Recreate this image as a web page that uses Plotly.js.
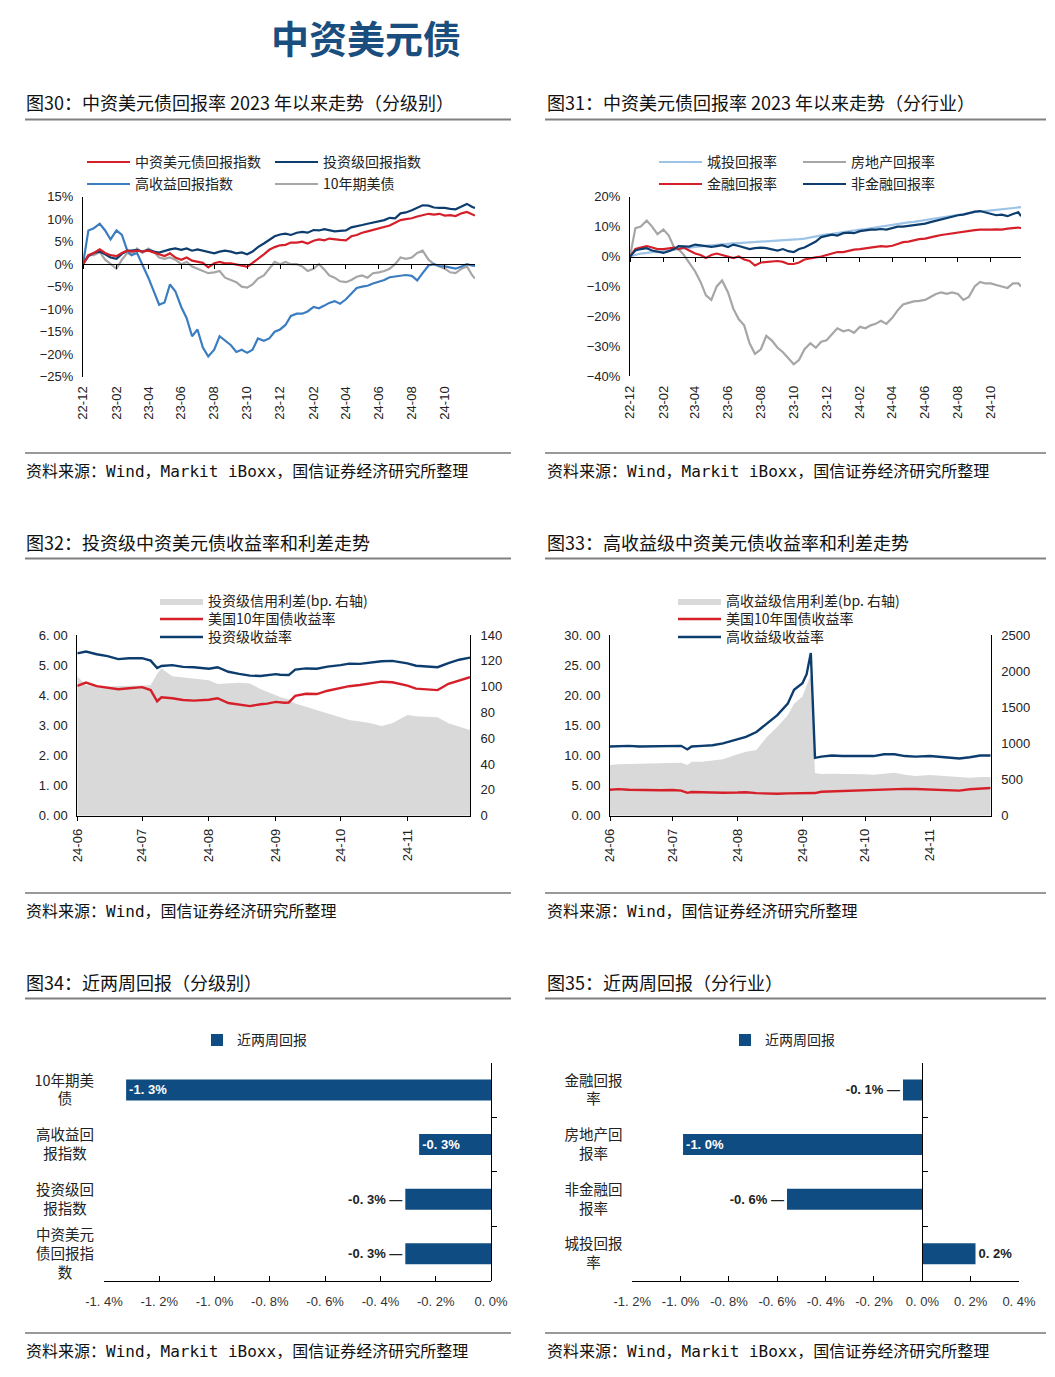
<!DOCTYPE html>
<html>
<head>
<meta charset="utf-8">
<script src="https://cdn.plot.ly/plotly-3.0.1.min.js"></script>
<style>html,body{margin:0;padding:0;background:#fff}#chart{width:1055px;height:1377px}</style>
</head>
<body>
<div id="chart"></div>
<script>
// ---------------- DATA ----------------
const topDates = [
'2022-12-01','2022-12-11','2022-12-21','2023-01-01','2023-01-11','2023-01-21',
'2023-02-01','2023-02-11','2023-02-21','2023-03-01','2023-03-11','2023-03-21',
'2023-04-01','2023-04-11','2023-04-21','2023-05-01','2023-05-11','2023-05-21',
'2023-06-01','2023-06-11','2023-06-21','2023-07-01','2023-07-11','2023-07-21',
'2023-08-01','2023-08-11','2023-08-21','2023-09-01','2023-09-11','2023-09-21',
'2023-10-01','2023-10-11','2023-10-21','2023-11-01','2023-11-11','2023-11-21',
'2023-12-01','2023-12-11','2023-12-21','2024-01-01','2024-01-11','2024-01-21',
'2024-02-01','2024-02-11','2024-02-21','2024-03-01','2024-03-11','2024-03-21',
'2024-04-01','2024-04-11','2024-04-21','2024-05-01','2024-05-11','2024-05-21',
'2024-06-01','2024-06-11','2024-06-21','2024-07-01','2024-07-11','2024-07-21',
'2024-08-01','2024-08-11','2024-08-21','2024-09-01','2024-09-11','2024-09-21',
'2024-10-01','2024-10-11','2024-10-21','2024-11-01','2024-11-11','2024-11-21',
'2024-11-26'];

// Fig 30 (%)
const chinaUsdBondIndex = [0,2.0,2.5, 3.3,2.5,2.0, 1.8,2.5,3.0, 2.8,3.0,2.8, 3.0,2.6,2.2, 1.8,2.4,1.5,
  1.0,1.5,0.8, 0.5,0.3,-0.7, 0.2,0.5,0.2, 0.2,0.0,-0.3, -0.6,0.2,1.2, 2.2,3.2,3.8,
  4.2,4.3,4.8, 4.8,5.0,4.6, 5.2,5.5,5.3, 5.7,5.5,5.4, 5.3,6.2,6.5, 7.0,7.3,7.6,
  8.0,8.3,8.6, 9.2,9.8,10.0, 10.2,10.6,10.9, 11.2,11.0,11.2, 10.8,10.9,10.7, 11.3,11.6,11.0, 10.8];
const investmentGradeIndex = [0,1.8,2.5, 2.8,2.2,1.5, 1.2,2.3,3.0, 3.0,3.2,2.8, 3.2,2.8,2.6, 3.0,3.3,3.5,
  3.2,3.5,3.0, 3.3,3.0,2.8, 2.4,2.8,3.0, 2.8,2.4,2.6, 2.2,2.8,3.8, 4.6,5.5,6.2,
  6.6,6.8,6.5, 7.0,7.2,7.0, 7.6,7.5,7.8, 7.6,7.3,7.4, 7.5,8.2,8.4, 8.7,9.0,9.3,
  9.5,9.8,10.3, 10.2,11.3,11.5, 12.0,12.5,13.1, 13.0,12.6,12.5, 12.5,12.3,12.2, 12.8,13.4,12.7, 12.5];
const highYieldIndex = [0,7.5,8.0, 9.0,7.5,5.5, 7.5,6.5,3.0, 2.0,2.5,0.0, -3.0,-6.0,-9.0, -8.5,-4.5,-6.0,
  -9.5,-12.0,-16.0, -14.5,-18.5,-20.5, -19.0,-16.0,-17.0, -18.0,-19.5,-19.0, -19.7,-19.0,-16.5, -17.0,-16.5,-15.0,
  -14.5,-13.5,-11.5, -11.0,-11.0,-10.5, -9.5,-9.8,-9.2, -8.6,-8.2,-8.8, -7.8,-6.5,-5.3, -5.0,-4.8,-4.3,
  -3.9,-3.5,-2.9, -2.7,-2.5,-2.4, -2.6,-3.6,-2.0, -0.3,0.0,-0.4, -0.5,-0.8,-1.0, -0.5,0.0,-0.3, -0.4];
const tenYearTreasury = [0,2.0,2.0, 2.7,1.0,0.0, -1.0,1.0,2.5, 2.0,3.5,2.5, 3.5,2.8,1.5, 1.2,1.5,1.0,
  0.0,0.5,-0.5, -1.0,-1.5,-2.0, -1.8,-1.5,-3.0, -3.5,-4.0,-5.0, -5.2,-4.5,-3.2, -2.5,-1.0,0.5,
  0.0,0.5,0.0, 0.0,-0.5,-1.5, -1.0,0.0,-1.2, -2.5,-3.0,-3.8, -4.0,-3.5,-2.8, -2.5,-3.0,-2.0,
  -1.8,-1.5,-1.0, 0.0,1.5,1.2, 1.5,2.5,3.0, 1.0,0.0,-0.5, -1.0,-1.8,-2.0, -1.0,-0.5,-2.5, -3.2];

// Fig 31 (%)
const chengtouReturn = [0,0.5,1.0, 1.2,1.5,1.5, 1.8,2.0,2.2, 2.5,2.8,3.0, 3.2,3.4,3.6, 3.8,4.0,4.2,
  4.3,4.4,4.5, 4.6,4.7,4.8, 4.9,5.0,5.1, 5.3,5.4,5.5, 5.6,5.8,6.0, 6.4,6.8,7.1,
  7.4,7.6,7.9, 8.2,8.4,8.7, 9.0,9.2,9.5, 9.8,10.0,10.3, 10.6,10.8,11.1, 11.4,11.6,11.9,
  12.2,12.5,12.8, 13.1,13.4,13.7, 14.0,14.3,14.5, 14.8,15.0,15.2, 15.4,15.6,15.8, 16.0,16.2,16.4, 16.5];
const propertyReturn = [0,9.5,10.0, 12.0,10.0,7.5, 9.0,7.0,3.0, 2.5,0.5,-2.0, -5.0,-8.5,-13.0, -14.5,-10.0,-8.0,
  -12.0,-17.5,-21.0, -23.0,-29.0,-32.5, -31.0,-26.5,-28.0, -30.5,-32.0,-34.0, -36.0,-34.5,-31.0, -29.0,-30.5,-28.5,
  -28.0,-26.0,-24.0, -25.0,-24.5,-25.5, -23.5,-24.0,-23.0, -22.5,-21.5,-22.5, -20.5,-18.0,-16.0, -15.5,-15.0,-14.8,
  -14.5,-13.5,-12.5, -12.0,-12.5,-12.0, -12.5,-14.5,-13.5, -10.0,-8.5,-9.0, -9.0,-9.5,-10.0, -10.5,-9.0,-9.0, -10.0];
const financialReturn = [0,2.5,3.0, 3.5,3.0,2.5, 2.5,2.8,3.0, 2.5,3.0,2.0, 1.0,0.5,-0.5, 0.5,1.0,0.5,
  0.0,-0.5,0.0, -1.0,-1.5,-3.0, -2.0,-1.8,-1.5, -1.5,-1.8,-2.5, -2.5,-2.0,-1.0, -0.5,-0.3,0.0,
  0.5,1.0,1.5, 1.5,2.0,2.3, 2.5,2.7,3.0, 3.2,3.5,3.3, 3.6,4.2,4.8, 5.0,5.5,5.8,
  6.0,6.5,6.8, 7.2,7.5,7.7, 8.0,8.2,8.5, 8.8,9.0,8.9, 9.0,9.1,9.0, 9.3,9.6,9.7, 9.5];
const nonFinancialReturn = [0,2.0,2.5, 2.8,2.0,1.5, 1.2,1.8,2.5, 3.5,3.5,3.3, 4.0,3.8,3.5, 3.2,3.5,3.8,
  3.2,4.0,3.5, 3.0,2.5,2.8, 3.0,2.8,2.3, 2.0,2.5,1.8, 1.5,2.5,3.0, 4.0,5.0,6.5,
  7.0,7.3,7.0, 7.8,8.0,7.8, 8.5,8.8,9.0, 9.0,9.2,9.0, 9.5,10.0,10.0, 10.2,10.5,10.8,
  11.0,11.5,12.0, 12.5,12.8,13.5, 13.8,14.0,14.5, 15.0,15.2,14.8, 14.2,13.8,14.0, 13.5,14.2,14.8, 13.5];

// Fig 32 / 33
const midDates = [
'2024-06-01','2024-06-05','2024-06-10','2024-06-15','2024-06-20','2024-06-25',
'2024-07-01','2024-07-05','2024-07-08','2024-07-10','2024-07-15','2024-07-20','2024-07-25',
'2024-08-01','2024-08-05','2024-08-10','2024-08-15','2024-08-20','2024-08-25','2024-08-28',
'2024-09-01','2024-09-03','2024-09-05','2024-09-07','2024-09-10','2024-09-15','2024-09-20','2024-09-25',
'2024-10-01','2024-10-05','2024-10-10','2024-10-15','2024-10-20','2024-10-25',
'2024-11-01','2024-11-05','2024-11-10','2024-11-15','2024-11-20','2024-11-25','2024-11-30'];
const igSpread = [108,101,100.5,100,100.5,100.5, 100.5,101,110,114,108,107,106.5,
  105,102,102.6,103,102.5,98,96, 93,92,91,90,87,84.5,82,79.3,
  76.7,74.2,72.9,71.6,69.5,71.6, 78,77,76.7,76.2,71.6,69,66.4];
const us10y = [4.31,4.42,4.30,4.25,4.20,4.23, 4.27,4.17,3.80,3.93,3.90,3.84,3.82,
  3.85,3.90,3.74,3.68,3.64,3.70,3.72, 3.78,3.76,3.75,3.76,3.98,4.05,4.04,4.15,
  4.25,4.30,4.34,4.39,4.45,4.43, 4.32,4.22,4.20,4.17,4.38,4.50,4.60];
const igYield = [5.39,5.45,5.36,5.30,5.20,5.23, 5.23,5.15,4.90,4.97,5.00,4.94,4.93,
  4.88,4.93,4.78,4.71,4.65,4.64,4.66, 4.70,4.68,4.67,4.67,4.85,4.89,4.88,4.95,
  5.00,5.05,5.04,5.08,5.13,5.14, 5.06,4.98,4.96,4.93,5.07,5.18,5.25];
const hySpread = [700,712,715,718,718,720, 725,733,700,745,748,760,780,
  850,885,910,1090,1230,1390,1550, 1650,1800,1950,590,578,580,580,575,
  572,568,585,595,565,550, 563,555,540,530,525,535,535];
const hyYield = [11.5,11.6,11.6,11.5,11.5,11.5, 11.6,11.6,11.0,11.5,11.6,11.7,12.0,
  12.7,13.1,13.9,15.3,16.7,18.6,20.9, 22.0,23.5,27.0,9.6,9.8,10.0,9.9,9.9,
  9.9,9.9,10.2,10.2,9.9,9.8, 9.9,9.8,9.7,9.5,9.7,10.0,10.0];

// Fig 34 / 35 (%)
const gradeCats = ['10年期美债','高收益回报指数','投资级回报指数','中资美元债回报指数'];
const gradeTwoWeek = [-1.32,-0.26,-0.31,-0.31];
const gradeLabels = ['-1. 3%','-0. 3%','-0. 3% —','-0. 3% —'];
const gradeTickText = ['10年期美<br>债\u3000\u2002','高收益回<br>报指数\u2002','投资级回<br>报指数\u2002','中资美元<br>债回报指<br>数\u3000\u2002'];
const sectorCats = ['金融回报率','房地产回报率','非金融回报率','城投回报率'];
const sectorTwoWeek = [-0.08,-0.99,-0.56,0.22];
const sectorLabels = ['-0. 1% —','-1. 0%','-0. 6% —','0. 2%'];
const sectorTickText = ['金融回报<br>率\u3000\u2002','房地产回<br>报率\u3000','非金融回<br>报率\u3000','城投回报<br>率\u3000\u2002'];

const gradeTickVals = [-1.4,-1.2,-1.0,-0.8,-0.6,-0.4,-0.2,0];
const gradeTickLbl = ['-1. 4%','-1. 2%','-1. 0%','-0. 8%','-0. 6%','-0. 4%','-0. 2%','0. 0%'];
const sectorTickVals = [-1.2,-1.0,-0.8,-0.6,-0.4,-0.2,0,0.2,0.4];
const sectorTickLbl = ['-1. 2%','-1. 0%','-0. 8%','-0. 6%','-0. 4%','-0. 2%','0. 0%','0. 2%','0. 4%'];
const yieldTickVals = [0,1,2,3,4,5,6];
const yieldTickLbl = ['0. 00','1. 00','2. 00','3. 00','4. 00','5. 00','6. 00'];
const hyTickVals = [0,5,10,15,20,25,30];
const hyTickLbl = ['0. 00','5. 00','10. 00','15. 00','20. 00','25. 00','30. 00'];

// ---------------- STYLE ----------------
const W = 1055, H = 1377;
const px = v => v / W;
const py = v => 1 - v / H;
const CJK = 'Noto Sans CJK SC';
const LAT = 'Liberation Sans, Arial, Noto Sans CJK SC';
const MONO = 'DejaVu Sans Mono, Noto Sans CJK SC';
const RED = '#d5202a', NAVY = '#0c3d6e', BLUE = '#3b7dc0', GRAY = '#a6a6a6',
      LBLUE = '#9dc3e6', AREA = '#d9d9d9', BAR = '#0f4c81', TXT = '#222';

function line(x, y, name, color, xa, ya, lgd, w) {
  return {x: x, y: y, name: name, type: 'scatter', mode: 'lines',
    line: {color: color, width: w || 2.2}, xaxis: xa, yaxis: ya, legend: lgd, hoverinfo: 'skip'};
}
function area(x, y, name, xa, ya, lgd) {
  return {x: x, y: y, name: name, type: 'scatter', mode: 'lines', fill: 'tozeroy',
    fillcolor: AREA, line: {color: AREA, width: 0}, xaxis: xa, yaxis: ya, legend: lgd, hoverinfo: 'skip'};
}
function barTrace(cats, vals, labels, positions, xa, ya, lgd) {
  return {type: 'bar', orientation: 'h', y: cats, x: vals, name: '近两周回报',
    marker: {color: BAR}, text: labels, textposition: positions, insidetextanchor: 'end',
    textfont: {family: LAT, size: 13, weight: 700},
    insidetextfont: {family: LAT, size: 13, color: '#fff', weight: 700},
    outsidetextfont: {family: LAT, size: 13, color: TXT, weight: 700},
    constraintext: 'none', cliponaxis: false, xaxis: xa, yaxis: ya, legend: lgd, hoverinfo: 'skip'};
}

const data = [
  // Fig 30
  line(topDates, tenYearTreasury, '10年期美债', GRAY, 'x', 'y', 'legend4'),
  line(topDates, highYieldIndex, '高收益回报指数', BLUE, 'x', 'y', 'legend2'),
  line(topDates, investmentGradeIndex, '投资级回报指数', NAVY, 'x', 'y', 'legend3'),
  line(topDates, chinaUsdBondIndex, '中资美元债回报指数', RED, 'x', 'y', 'legend'),
  // Fig 31
  line(topDates, chengtouReturn, '城投回报率', LBLUE, 'x2', 'y2', 'legend5'),
  line(topDates, propertyReturn, '房地产回报率', GRAY, 'x2', 'y2', 'legend6'),
  line(topDates, financialReturn, '金融回报率', RED, 'x2', 'y2', 'legend7'),
  line(topDates, nonFinancialReturn, '非金融回报率', NAVY, 'x2', 'y2', 'legend8'),
  // Fig 32
  area(midDates, igSpread, '投资级信用利差(bp. 右轴)', 'x3', 'y3', 'legend9'),
  line(midDates, us10y, '美国10年国债收益率', RED, 'x3', 'y4', 'legend10', 2.4),
  line(midDates, igYield, '投资级收益率', NAVY, 'x3', 'y4', 'legend11', 2.4),
  // Fig 33
  area(midDates, hySpread, '高收益级信用利差(bp. 右轴)', 'x4', 'y5', 'legend12'),
  line(midDates, us10y, '美国10年国债收益率', RED, 'x4', 'y6', 'legend13', 2.4),
  line(midDates, hyYield, '高收益级收益率', NAVY, 'x4', 'y6', 'legend14', 2.4),
  // Fig 34 / 35
  barTrace(gradeCats, gradeTwoWeek, gradeLabels, ['inside','inside','outside','outside'], 'x5', 'y7', 'legend15'),
  barTrace(sectorCats, sectorTwoWeek, sectorLabels, ['outside','inside','outside','outside'], 'x6', 'y8', 'legend16')
];

// ---------------- LAYOUT ----------------
const tickF = {family: LAT, size: 13, color: TXT};
const baseAx = {showgrid: false, zeroline: false, fixedrange: true, linecolor: '#000', linewidth: 1, tickcolor: '#000', tickfont: tickF};

function lg(xLine, yCenter, iw) {
  return {x: px(xLine - 5), y: py(yCenter - 15.6), xanchor: 'left', yanchor: 'top', orientation: 'v',
    bgcolor: 'rgba(0,0,0,0)', borderwidth: 0, itemwidth: iw || 43,
    font: {family: CJK, size: 14, color: TXT}};
}

const layout = {
  width: W, height: H, autosize: false,
  margin: {l: 0, r: 0, t: 0, b: 0, pad: 0},
  paper_bgcolor: '#fff', plot_bgcolor: 'rgba(0,0,0,0)',
  showlegend: true, bargap: 0.615,
  // Fig 30
  xaxis: Object.assign({}, baseAx, {domain: [px(83), px(475)], type: 'date', range: ['2022-12-01', '2024-11-26'],
    anchor: 'free', position: py(264.2), showline: true, ticks: 'outside', ticklen: 4,
    dtick: 'M2', tick0: '2022-12-01', tickformat: '%y-%m', tickangle: -90, ticklabelstandoff: 112}),
  yaxis: Object.assign({}, baseAx, {domain: [py(376.7), py(196.7)], range: [-25, 15], dtick: 5, ticksuffix: '%',
    anchor: 'x', showline: true, ticks: '', ticklabelstandoff: 6}),
  // Fig 31
  xaxis2: Object.assign({}, baseAx, {domain: [px(630), px(1021)], type: 'date', range: ['2022-12-01', '2024-11-26'],
    anchor: 'free', position: py(256.5), showline: true, ticks: 'outside', ticklen: 4,
    dtick: 'M2', tick0: '2022-12-01', tickformat: '%y-%m', tickangle: -90, ticklabelstandoff: 119}),
  yaxis2: Object.assign({}, baseAx, {domain: [py(376.2), py(196.7)], range: [-40, 20], dtick: 10, ticksuffix: '%',
    anchor: 'x2', showline: true, ticks: '', ticklabelstandoff: 6}),
  // Fig 32
  xaxis3: Object.assign({}, baseAx, {domain: [px(77.3), px(470)], type: 'date', range: ['2024-06-01', '2024-11-30'],
    anchor: 'y3', showline: true, ticks: 'outside', ticklen: 4, dtick: 'M1', tick0: '2024-06-01',
    tickformat: '%y-%m', tickangle: -90, ticklabelstandoff: 3}),
  yaxis3: Object.assign({}, baseAx, {domain: [py(815.7), py(635)], range: [0, 140], dtick: 20, side: 'right',
    anchor: 'x3', showline: true, ticks: '', ticklabelstandoff: 7}),
  yaxis4: Object.assign({}, baseAx, {range: [0, 6], overlaying: 'y3', side: 'left', anchor: 'x3', showline: true,
    ticks: '', tickmode: 'array', tickvals: yieldTickVals, ticktext: yieldTickLbl, ticklabelstandoff: 6}),
  // Fig 33
  xaxis4: Object.assign({}, baseAx, {domain: [px(610), px(990.7)], type: 'date', range: ['2024-06-01', '2024-11-30'],
    anchor: 'y5', showline: true, ticks: 'outside', ticklen: 4, dtick: 'M1', tick0: '2024-06-01',
    tickformat: '%y-%m', tickangle: -90, ticklabelstandoff: 3}),
  yaxis5: Object.assign({}, baseAx, {domain: [py(815.7), py(635)], range: [0, 2500], dtick: 500, side: 'right',
    anchor: 'x4', showline: true, ticks: '', ticklabelstandoff: 7}),
  yaxis6: Object.assign({}, baseAx, {range: [0, 30], overlaying: 'y5', side: 'left', anchor: 'x4', showline: true,
    ticks: '', tickmode: 'array', tickvals: hyTickVals, ticktext: hyTickLbl, ticklabelstandoff: 6}),
  // Fig 34
  xaxis5: Object.assign({}, baseAx, {domain: [px(104), px(491)], range: [-1.4, 0], anchor: 'y7', showline: true,
    ticks: 'inside', ticklen: 5, tickmode: 'array', tickvals: gradeTickVals, ticktext: gradeTickLbl,
    tickfont: {family: LAT, size: 13, color: '#333'}, ticklabelstandoff: 8}),
  yaxis7: Object.assign({}, baseAx, {domain: [py(1281), py(1062.7)], type: 'category', range: [3.5, -0.5],
    anchor: 'free', position: px(491), side: 'left', showline: true, ticks: 'inside', ticklen: 5, tickson: 'boundaries',
    tickmode: 'array', tickvals: gradeCats, ticktext: gradeTickText,
    tickfont: {family: CJK, size: 14.5, color: TXT}, ticklabelstandoff: 394}),
  // Fig 35
  xaxis6: Object.assign({}, baseAx, {domain: [px(632.3), px(1019)], range: [-1.2, 0.4], anchor: 'y8', showline: true,
    ticks: 'inside', ticklen: 5, tickmode: 'array', tickvals: sectorTickVals, ticktext: sectorTickLbl,
    tickfont: {family: LAT, size: 13, color: '#333'}, ticklabelstandoff: 8}),
  yaxis8: Object.assign({}, baseAx, {domain: [py(1281), py(1062.7)], type: 'category', range: [3.5, -0.5],
    anchor: 'free', position: px(922.3), side: 'left', showline: true, ticks: 'inside', ticklen: 5, tickson: 'boundaries',
    tickmode: 'array', tickvals: sectorCats, ticktext: sectorTickText,
    tickfont: {family: CJK, size: 14.5, color: TXT}, ticklabelstandoff: 297}),
  // legends
  legend: lg(87, 162), legend2: lg(87, 184), legend3: lg(275, 162), legend4: lg(275, 184),
  legend5: lg(659, 162), legend6: lg(803, 162), legend7: lg(659, 184), legend8: lg(803, 184),
  legend9: lg(160, 601), legend10: lg(160, 619), legend11: lg(160, 637),
  legend12: lg(678, 601), legend13: lg(678, 619), legend14: lg(678, 637),
  legend15: lg(202, 1040, 30), legend16: lg(730, 1040, 30),
  annotations: [],
  shapes: []
};

const hdrFont = {family: CJK, size: 18, color: '#111'};
const srcFont = {family: MONO, size: 16, color: '#111'};
function ann(text, x, y, font, xanchor) {
  return {text: text, x: px(x), y: py(y), xref: 'paper', yref: 'paper', xanchor: xanchor || 'left', yanchor: 'middle',
    showarrow: false, font: font};
}
layout.annotations.push(ann('<b>中资美元债</b>', 365.5, 36, {family: CJK, size: 38, color: '#1a4e7e'}, 'center'));
const headers = [
  ['图30：中资美元债回报率 2023 年以来走势（分级别）', 24, 102], ['图31：中资美元债回报率 2023 年以来走势（分行业）', 545, 102],
  ['图32：投资级中资美元债收益率和利差走势', 24, 542], ['图33：高收益级中资美元债收益率和利差走势', 545, 542],
  ['图34：近两周回报（分级别）', 24, 982], ['图35：近两周回报（分行业）', 545, 982]];
headers.forEach(h => layout.annotations.push(ann(h[0], h[1], h[2], hdrFont)));
const srcA = '资料来源：Wind，Markit iBoxx，国信证券经济研究所整理';
const srcB = '资料来源：Wind，国信证券经济研究所整理';
[[srcA, 24, 471], [srcA, 545, 471], [srcB, 24, 911], [srcB, 545, 911], [srcA, 24, 1351], [srcA, 545, 1351]]
  .forEach(s => layout.annotations.push(ann(s[0], s[1], s[2], srcFont)));

function hline(x0, x1, y, color, w) {
  return {type: 'line', xref: 'paper', yref: 'paper', x0: px(x0), x1: px(x1), y0: py(y), y1: py(y), line: {color: color, width: w}};
}
[119.5, 558.5, 998.5].forEach(y => { layout.shapes.push(hline(25, 511, y, '#808080', 2)); layout.shapes.push(hline(545, 1046, y, '#808080', 2)); });
[453, 893, 1333].forEach(y => { layout.shapes.push(hline(25, 511, y, '#333', 1)); layout.shapes.push(hline(545, 1046, y, '#333', 1)); });

Plotly.newPlot('chart', data, layout, {staticPlot: true, displayModeBar: false});
</script>
</body>
</html>
